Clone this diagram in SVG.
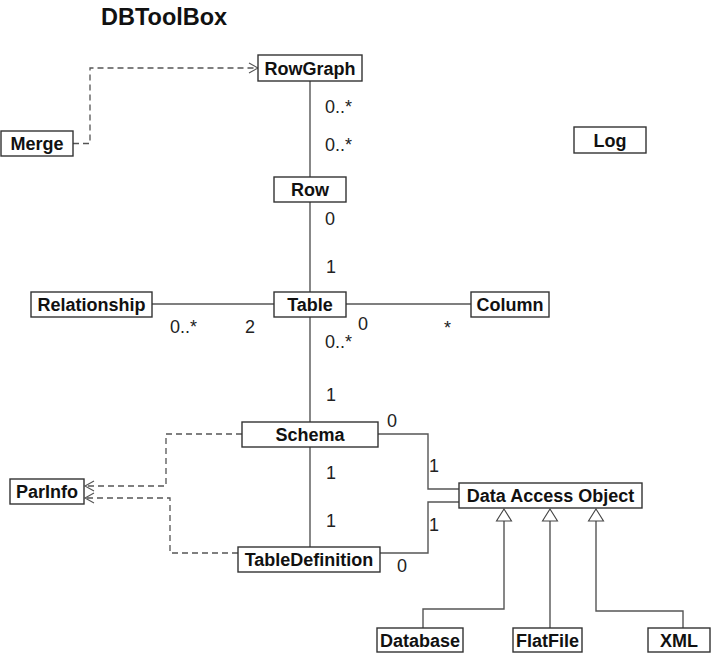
<svg xmlns="http://www.w3.org/2000/svg" width="720" height="653" viewBox="0 0 720 653">
<style>
.box{fill:#fff;stroke:#333;stroke-width:1.4}
.lbl{font-family:"Liberation Sans",Arial,sans-serif;font-weight:bold;font-size:18px;fill:#111;text-anchor:middle}
.m{font-family:"Liberation Sans",Arial,sans-serif;font-size:18px;fill:#222}
.ln{fill:none;stroke:#555;stroke-width:1.4}
.dash{fill:none;stroke:#555;stroke-width:1.3;stroke-dasharray:6,4}
.tri{fill:#fff;stroke:#444;stroke-width:1.1}
</style>
<defs>
<marker id="open" markerWidth="12" markerHeight="12" refX="10" refY="6" orient="auto" markerUnits="userSpaceOnUse">
<path d="M1,1 L10,6 L1,11" fill="none" stroke="#555" stroke-width="1.1"/>
</marker>
</defs>
<rect width="720" height="653" fill="#fff"/>
<text x="101" y="25" font-family="Liberation Sans,Arial,sans-serif" font-weight="bold" font-size="23.5" fill="#111">DBToolBox</text>
<g id="connectors">
<path class="dash" d="M73,143.5 H90 V68 H258" marker-end="url(#open)"/>
<path class="ln" d="M310,81 V177"/>
<path class="ln" d="M310,202 V292"/>
<path class="ln" d="M152,304 H274"/>
<path class="ln" d="M346,304 H471"/>
<path class="ln" d="M310,317 V422"/>
<path class="ln" d="M310,447 V547"/>
<path class="ln" d="M378,434 H428 V489 H459"/>
<path class="ln" d="M380,553 H428 V502 H459"/>
<path class="dash" d="M242,434 H166 V486 H85" marker-end="url(#open)"/>
<path class="dash" d="M238,553 H170 V498 H85" marker-end="url(#open)"/>
<path class="ln" d="M423,628 V609 H504 V521"/>
<path class="ln" d="M550,628 V521"/>
<path class="ln" d="M683,628 V611 H596 V521"/>
<path class="tri" d="M504,509 L511.5,521 L496.5,521 Z"/>
<path class="tri" d="M550,509 L557.5,521 L542.5,521 Z"/>
<path class="tri" d="M596,509 L603.5,521 L588.5,521 Z"/>
<text class="m" x="325" y="113">0..*</text>
<text class="m" x="325" y="151">0..*</text>
<text class="m" x="325" y="225">0</text>
<text class="m" x="326" y="273">1</text>
<text class="m" x="170" y="333">0..*</text>
<text class="m" x="245" y="333">2</text>
<text class="m" x="358" y="330">0</text>
<text class="m" x="444" y="334">*</text>
<text class="m" x="325" y="348">0..*</text>
<text class="m" x="326" y="401">1</text>
<text class="m" x="387" y="427">0</text>
<text class="m" x="326" y="479">1</text>
<text class="m" x="326" y="527">1</text>
<text class="m" x="397" y="572">0</text>
<text class="m" x="429" y="472">1</text>
<text class="m" x="429" y="531">1</text>
</g>
<g id="RowGraph"><rect class="box" x="258" y="55" width="104" height="26"/><text class="lbl" x="310" y="74.5">RowGraph</text></g>
<g id="Merge"><rect class="box" x="1" y="131" width="72" height="25"/><text class="lbl" x="37" y="150">Merge</text></g>
<g id="Row"><rect class="box" x="274" y="177" width="72" height="25"/><text class="lbl" x="310" y="196">Row</text></g>
<g id="Log"><rect class="box" x="574" y="127" width="72" height="26"/><text class="lbl" x="610" y="146.5">Log</text></g>
<g id="Relationship"><rect class="box" x="31" y="292" width="121" height="25"/><text class="lbl" x="91.5" y="311">Relationship</text></g>
<g id="Table"><rect class="box" x="274" y="292" width="72" height="25"/><text class="lbl" x="310" y="311">Table</text></g>
<g id="Column"><rect class="box" x="471" y="292" width="78" height="25"/><text class="lbl" x="510" y="311">Column</text></g>
<g id="Schema"><rect class="box" x="242" y="422" width="136" height="25"/><text class="lbl" x="310" y="441">Schema</text></g>
<g id="ParInfo"><rect class="box" x="10" y="479" width="74" height="25"/><text class="lbl" x="47" y="498">ParInfo</text></g>
<g id="TableDefinition"><rect class="box" x="238" y="547" width="142" height="25"/><text class="lbl" x="309" y="566">TableDefinition</text></g>
<g id="DataAccessObject"><rect class="box" x="459" y="483" width="183" height="25"/><text class="lbl" x="550.5" y="502">Data Access Object</text></g>
<g id="Database"><rect class="box" x="377" y="628" width="86" height="24"/><text class="lbl" x="420" y="646.5">Database</text></g>
<g id="FlatFile"><rect class="box" x="513" y="628" width="69" height="24"/><text class="lbl" x="547.5" y="646.5">FlatFile</text></g>
<g id="XML"><rect class="box" x="648" y="628" width="62" height="24"/><text class="lbl" x="679" y="646.5">XML</text></g>
</svg>
